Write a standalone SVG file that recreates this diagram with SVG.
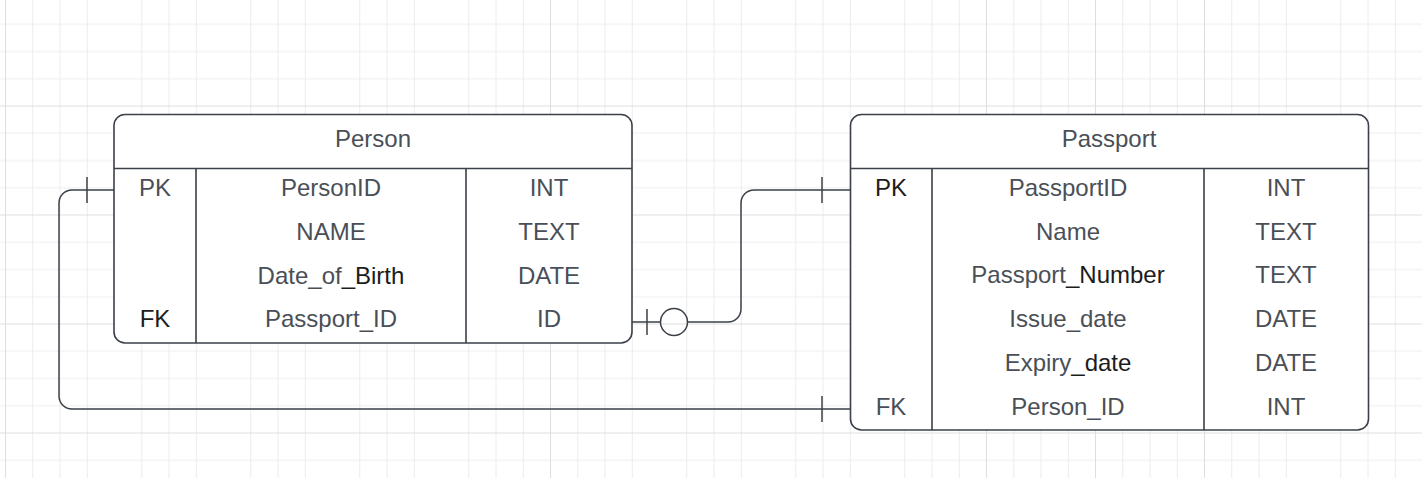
<svg xmlns="http://www.w3.org/2000/svg" width="1422" height="478" viewBox="0 0 1422 478">
<style>
.tbl{fill:#ffffff;stroke:#3b4049;stroke-width:1.6}
.ln{stroke:#3b4049;stroke-width:1.6;fill:none}
.cn{stroke:#3b4049;stroke-width:1.5;fill:none}
text{font-family:"Liberation Sans",Arial,sans-serif;font-size:24px;fill:#4a4f57;text-anchor:middle}
.dk{fill:#1c1c1c}
</style>
<defs>
<pattern id="grid" x="5" y="-3.5" width="109" height="109" patternUnits="userSpaceOnUse">
<path d="M27.75 0V109M55 0V109M82.25 0V109M0 27.75H109M0 55H109M0 82.25H109" stroke="#ececec" stroke-width="1" fill="none"/>
<path d="M0.5 0V109M0 0.5H109" stroke="#dedede" stroke-width="1" fill="none"/>
</pattern>
</defs>
<rect x="0" y="0" width="1422" height="478" fill="#ffffff"/>
<rect x="0" y="0" width="1422" height="478" fill="url(#grid)"/>

<g id="connectors">
<path class="cn" d="M114 190H72A13 13 0 0 0 59 203V396A13 13 0 0 0 72 409H850"/>
<path class="cn" d="M87 177V203M822 396V422"/>
<path class="cn" d="M632 322H660.5M687.5 322H728A13 13 0 0 0 741 309V203A13 13 0 0 1 754 190H850"/>
<circle class="cn" cx="674" cy="322" r="13.5"/>
<path class="cn" d="M647 309V335M822 177V203"/>
</g>

<g id="person">
<rect class="tbl" x="114" y="114.5" width="518" height="228.5" rx="11"/>
<path class="ln" d="M114 168.5H632M196 168.5V343M466 168.5V343"/>
<text x="373" y="147">Person</text>
<text x="155" y="196">PK</text>
<text x="331" y="196">PersonID</text>
<text x="549" y="196">INT</text>
<text x="331" y="239.75">NAME</text>
<text x="549" y="239.75">TEXT</text>
<text x="331" y="283.5">Date_of<tspan class="dk">_Birth</tspan></text>
<text x="549" y="283.5">DATE</text>
<text x="155" y="327.25" class="dk">FK</text>
<text x="331" y="327.25">Passport_ID</text>
<text x="549" y="327.25">ID</text>
</g>

<g id="passport">
<rect class="tbl" x="850.5" y="114.5" width="518" height="315.5" rx="11"/>
<path class="ln" d="M850.5 168.5H1368.5M932 168.5V430M1204 168.5V430"/>
<text x="1109" y="147">Passport</text>
<text x="891" y="196" class="dk">PK</text>
<text x="1068" y="196">PassportID</text>
<text x="1286" y="196">INT</text>
<text x="1068" y="239.7">Name</text>
<text x="1286" y="239.7">TEXT</text>
<text x="1068" y="283.4">Passport<tspan class="dk">_Number</tspan></text>
<text x="1286" y="283.4">TEXT</text>
<text x="1068" y="327.1">Issue_date</text>
<text x="1286" y="327.1">DATE</text>
<text x="1068" y="370.8">Expiry<tspan class="dk">_date</tspan></text>
<text x="1286" y="370.8">DATE</text>
<text x="891" y="414.5">FK</text>
<text x="1068" y="414.5">Person_ID</text>
<text x="1286" y="414.5">INT</text>
</g>
</svg>
